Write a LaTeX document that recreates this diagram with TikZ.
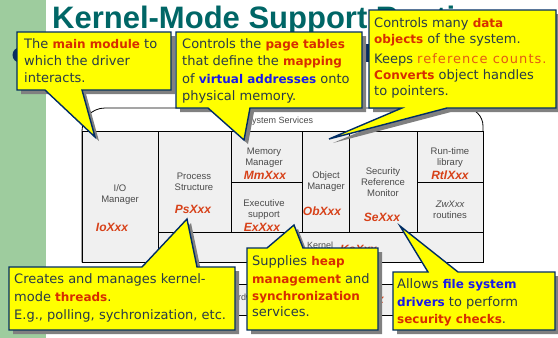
\documentclass[tikz,border=0pt]{standalone}
\usepackage{fontspec}
\setmainfont{DejaVu Sans}
\newfontfamily\arialfont{Liberation Sans}
\newfontfamily\widefont[LetterSpace=8]{DejaVu Sans}
\usetikzlibrary{shadows}

\definecolor{titleteal}{RGB}{0,102,102}
\definecolor{greenbar}{RGB}{158,204,158}
\definecolor{bulletnavy}{RGB}{10,45,95}
\definecolor{calloutyellow}{RGB}{255,255,0}
\definecolor{calloutedge}{RGB}{0,45,100}
\definecolor{callouttext}{RGB}{40,58,72}
\definecolor{hotred}{RGB}{215,45,0}
\definecolor{hotblue}{RGB}{25,25,235}
\definecolor{refred}{RGB}{225,90,20}
\definecolor{cellfill}{RGB}{240,240,240}
\definecolor{celltext}{RGB}{75,75,75}
\definecolor{apired}{RGB}{215,65,25}
\definecolor{shadowgray}{RGB}{128,128,128}

\newcommand\redword[1]{{\fontsize{12}{17}\selectfont\bfseries\color{hotred}#1}}
\newcommand\blueword[1]{{\fontsize{12}{17}\selectfont\bfseries\color{hotblue}#1}}
\newcommand\refword[1]{{\widefont\color{refred}#1}}

\begin{document}
\begin{tikzpicture}[x=1pt,y=-1pt,
  cellbox/.style={draw=black, line width=0.8pt, fill=cellfill},
  celllabel/.style={font=\arialfont\fontsize{9.5}{11}\selectfont, text=celltext, align=center, inner sep=0},
  apilabel/.style={font=\arialfont\bfseries\itshape\fontsize{12}{14}\selectfont, text=apired, inner sep=0},
  callout/.style={fill=calloutyellow, draw=calloutedge, line width=1.4pt, line join=miter,
    drop shadow={shadow xshift=4pt, shadow yshift=-4pt, fill=shadowgray, opacity=1}},
  ctext/.style={font=\fontsize{13}{17}\selectfont, text=callouttext, anchor=base west, inner sep=0},
  titlestyle/.style={font=\arialfont\bfseries\fontsize{31}{31}\selectfont, text=titleteal, anchor=base west, inner sep=0}]

% page background and side bar
\fill[white] (0,0) rectangle (558,338);
\useasboundingbox (0,0) rectangle (558,338);
\fill[greenbar] (0,0) rectangle (46,338);

% slide heading
\node[titlestyle] (title) at (52,28) {Kernel-Mode Support Routines};
\fill[bulletnavy] (20,55) circle[radius=7.5pt];
\fill[bulletnavy] (363,44) rectangle (369,62);

% executive block with its system-service top
\draw[line width=0.8pt, fill=white] (82,262) -- (82,131)
  .. controls (82,118.3) and (92.3,108) .. (105,108) -- (465,108)
  .. controls (474.9,108) and (483,116.1) .. (483,126) -- (483,262) -- cycle;
\node[celllabel, anchor=west, font=\arialfont\fontsize{9}{11}\selectfont] (syssvc) at (246,121) {System Services};

% executive components
\draw[cellbox] (82,131) rectangle (158,262);
\draw[cellbox] (158,232) rectangle (483,262);
\draw[cellbox] (158,131) rectangle (231,232);
\draw[cellbox] (231,131) rectangle (302,182);
\draw[cellbox] (231,182) rectangle (302,232);
\draw[cellbox] (302,131) rectangle (349,232);
\draw[cellbox] (349,131) rectangle (417,232);
\draw[cellbox] (417,131) rectangle (483,182);
\draw[cellbox] (417,182) rectangle (483,232);
\draw[cellbox] (82,284) rectangle (483,315);

\node[celllabel] (io) at (120,194.5) {I/O\\Manager};
\node[apilabel] (ioapi) at (112,227) {IoXxx};
\node[celllabel] (ps) at (194,181.5) {Process\\Structure};
\node[apilabel] (psapi) at (193,209) {PsXxx};
\node[celllabel] (mm) at (264,157.5) {Memory\\Manager};
\node[apilabel] (mmapi) at (265,175) {MmXxx};
\node[celllabel] (ex) at (264,209.5) {Executive\\support};
\node[apilabel] (exapi) at (262,227) {ExXxx};
\node[celllabel] (ob) at (326,181.5) {Object\\Manager};
\node[apilabel] (obapi) at (322,211) {ObXxx};
\node[celllabel] (se) at (383,182) {Security\\Reference\\Monitor};
\node[apilabel] (seapi) at (382,217) {SeXxx};
\node[celllabel] (rtl) at (450,157.5) {Run-time\\library};
\node[apilabel] (rtlapi) at (450,175) {RtlXxx};
\node[celllabel] (zw) at (450,209.5) {{\itshape ZwXxx}\\routines};
\node[celllabel, anchor=west, font=\arialfont\fontsize{9}{11}\selectfont] (kernel) at (307,245) {Kernel};
\node[apilabel, anchor=west] (keapi) at (340,249) {KeXxx};
\node[celllabel, anchor=base west, font=\arialfont\fontsize{9}{11}\selectfont] (hal) at (226.5,300) {Hardware Abstraction Layer};
\node[apilabel, anchor=base east] (halapi) at (384,303) {HalXxx};

% callout: I/O manager
\draw[callout] (17,32) -- (171,32) -- (171,90) -- (82,90) -- (95,137) -- (45,90) -- (17,90) -- cycle;
\node[ctext] (c1a) at (24,48) {The \redword{main module} to};
\node[ctext] (c1b) at (24,65) {which the driver};
\node[ctext] (c1c) at (24,82) {interacts.};

% callout: memory manager
\draw[callout] (176,32) -- (362,32) -- (362,108) -- (250,108) -- (244,140) -- (208,108) -- (176,108) -- cycle;
\node[ctext] (c2a) at (182,48) {Controls the \redword{page tables}};
\node[ctext] (c2b) at (182,65) {that define the \redword{mapping}};
\node[ctext] (c2c) at (182,83) {of \blueword{virtual addresses} onto};
\node[ctext] (c2d) at (182,100) {physical memory.};

% callout: object manager
\draw[callout] (369,10) -- (556,10) -- (556,108) -- (447,108) -- (329,139) -- (402,108) -- (369,108) -- cycle;
\node[ctext] (c3a) at (374,27) {Controls many \redword{data}};
\node[ctext] (c3b) at (374,43) {\redword{objects} of the system.};
\node[ctext] (c3c) at (374,63) {Keeps \refword{reference counts.}};
\node[ctext] (c3d) at (374,79) {\redword{Converts} object handles};
\node[ctext] (c3e) at (374,95) {to pointers.};

% callout: process structure
\draw[callout] (9,267) -- (142,267) -- (187,219) -- (197,267) -- (235,267) -- (235,330) -- (9,330) -- cycle;
\node[ctext] (c4a) at (14,283) {Creates and manages kernel-};
\node[ctext] (c4b) at (14,301) {mode \redword{threads}.};
\node[ctext] (c4c) at (14,319) {E.g., polling, sychronization, etc.};

% callout: executive support
\draw[callout] (247,248) -- (267,248) -- (294,225) -- (303,248) -- (378,248) -- (378,330) -- (247,330) -- cycle;
\node[ctext] (c5a) at (252,265) {Supplies \redword{heap}};
\node[ctext] (c5b) at (252,283) {\redword{management} and};
\node[ctext] (c5c) at (252,300) {\redword{synchronization}};
\node[ctext] (c5d) at (252,316) {services.};

% callout: security reference monitor
\draw[callout] (393,272) -- (428,272) -- (400,226) -- (458,272) -- (555,272) -- (555,330) -- (393,330) -- cycle;
\node[ctext] (c6a) at (397,288) {Allows \blueword{file system}};
\node[ctext] (c6b) at (397,306) {\blueword{drivers} to perform};
\node[ctext] (c6c) at (397,323) {\redword{security checks}.};

\end{tikzpicture}
\end{document}
